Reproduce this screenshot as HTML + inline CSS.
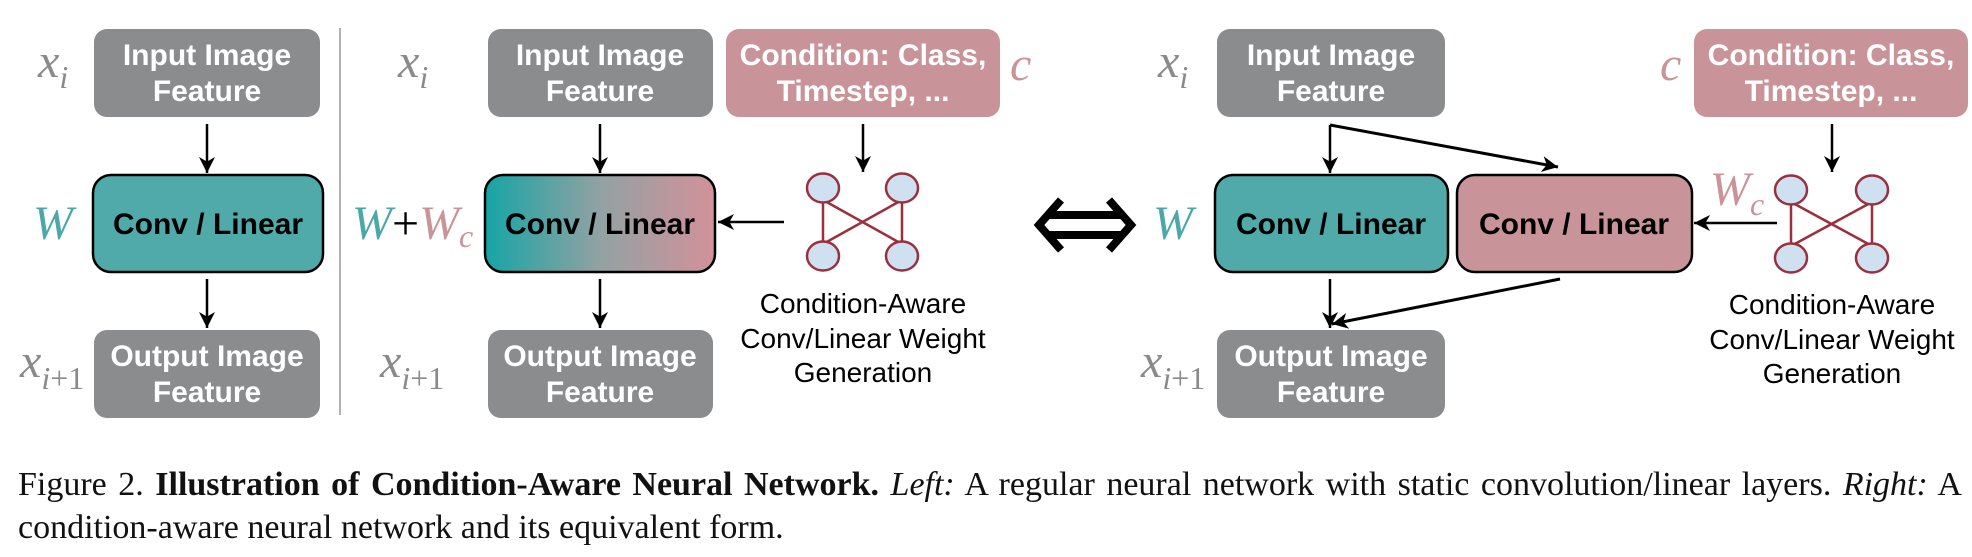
<!DOCTYPE html>
<html><head><meta charset="utf-8"><style>
html,body{margin:0;padding:0;background:#fff;width:1972px;height:557px;overflow:hidden}
svg{position:absolute;left:0;top:0}
.cap{position:absolute;left:18px;font-family:"Liberation Serif",serif;font-size:34px;color:#111;white-space:nowrap}
</style></head><body>
<svg width="1972" height="557" viewBox="0 0 1972 557" xmlns="http://www.w3.org/2000/svg">
<defs>
<marker id="ah" markerWidth="16" markerHeight="16" refX="14" refY="7" orient="auto" markerUnits="userSpaceOnUse" viewBox="0 0 14 14">
<path d="M0,0 L14,7 L0,14 L4,7 Z" fill="#000"/>
</marker>
<linearGradient id="grad" x1="0" x2="1" y1="0" y2="0">
<stop offset="0" stop-color="#16a4a4"/><stop offset="0.5" stop-color="#92a2a3"/><stop offset="1" stop-color="#d3919a"/>
</linearGradient>
</defs>
<g font-family="Liberation Sans, sans-serif" font-weight="bold" font-size="30" fill="#fff" text-anchor="middle">
<rect x="94" y="29" width="226" height="88" rx="13" fill="#8b8c8e"/>
<text x="207" y="65">Input Image</text><text x="207" y="101">Feature</text>
<rect x="94" y="330" width="226" height="88" rx="13" fill="#8b8c8e"/>
<text x="207" y="366">Output Image</text><text x="207" y="402">Feature</text>
<rect x="488" y="29" width="225" height="88" rx="13" fill="#8b8c8e"/>
<text x="600" y="65">Input Image</text><text x="600" y="101">Feature</text>
<rect x="488" y="330" width="225" height="88" rx="13" fill="#8b8c8e"/>
<text x="600" y="366">Output Image</text><text x="600" y="402">Feature</text>
<rect x="726" y="29" width="274" height="88" rx="13" fill="#c99499"/>
<text x="863" y="65">Condition: Class,</text><text x="863" y="101">Timestep, ...</text>
<rect x="1217" y="29" width="228" height="88" rx="13" fill="#8b8c8e"/>
<text x="1331" y="65">Input Image</text><text x="1331" y="101">Feature</text>
<rect x="1217" y="330" width="228" height="88" rx="13" fill="#8b8c8e"/>
<text x="1331" y="366">Output Image</text><text x="1331" y="402">Feature</text>
<rect x="1694" y="29" width="274" height="88" rx="13" fill="#c99499"/>
<text x="1831" y="65">Condition: Class,</text><text x="1831" y="101">Timestep, ...</text>
</g>
<g stroke="#000" stroke-width="2.5">
<rect x="93" y="175" width="230" height="97" rx="18" fill="#51aaaa"/>
<rect x="485" y="175" width="230" height="97" rx="18" fill="url(#grad)"/>
<rect x="1215" y="175" width="233" height="97" rx="18" fill="#51aaaa"/>
<rect x="1457" y="175" width="235" height="97" rx="18" fill="#c99499"/>
</g>
<g font-family="Liberation Sans, sans-serif" font-weight="bold" font-size="30" fill="#000" text-anchor="middle">
<text x="208" y="234">Conv / Linear</text>
<text x="600" y="234">Conv / Linear</text>
<text x="1331" y="234">Conv / Linear</text>
<text x="1574" y="234">Conv / Linear</text>
</g>
<line x1="340" y1="28" x2="340" y2="415" stroke="#999" stroke-width="1.5"/>
<g stroke="#000" stroke-width="2.5" fill="none" marker-end="url(#ah)">
<line x1="207" y1="124" x2="207" y2="173"/>
<line x1="207" y1="279" x2="207" y2="328"/>
<line x1="600" y1="124" x2="600" y2="173"/>
<line x1="600" y1="279" x2="600" y2="328"/>
<line x1="863" y1="124" x2="863" y2="172"/>
<line x1="784" y1="222" x2="718" y2="222"/>
<line x1="1330" y1="125" x2="1330" y2="173"/>
<line x1="1330" y1="279" x2="1330" y2="328"/>
<line x1="1832" y1="124" x2="1832" y2="172"/>
<line x1="1777" y1="223" x2="1694" y2="223"/>
</g>
<g stroke="#000" stroke-width="3" fill="none">
<polyline points="1330,125 1558,167" marker-end="url(#ah)"/>
<polyline points="1560,279 1332,324" marker-end="url(#ah)"/>
</g>
<g stroke="#9b2f3c" stroke-width="2.5">
<line x1="823" y1="188" x2="823" y2="256"/><line x1="902" y1="188" x2="902" y2="256"/>
<line x1="823" y1="200" x2="902" y2="244"/><line x1="902" y1="200" x2="823" y2="244"/>
<line x1="1791" y1="190" x2="1791" y2="258"/><line x1="1872" y1="190" x2="1872" y2="258"/>
<line x1="1791" y1="202" x2="1872" y2="246"/><line x1="1872" y1="202" x2="1791" y2="246"/>
</g>
<g stroke="#9b2f3c" stroke-width="2.5" fill="#cfe0f1">
<ellipse cx="823" cy="188" rx="16" ry="14.5"/><ellipse cx="902" cy="188" rx="16" ry="14.5"/>
<ellipse cx="823" cy="256" rx="16" ry="14.5"/><ellipse cx="902" cy="256" rx="16" ry="14.5"/>
<ellipse cx="1791" cy="190" rx="16" ry="14.5"/><ellipse cx="1872" cy="190" rx="16" ry="14.5"/>
<ellipse cx="1791" cy="258" rx="16" ry="14.5"/><ellipse cx="1872" cy="258" rx="16" ry="14.5"/>
</g>
<g font-family="Liberation Sans, sans-serif" font-size="28" fill="#000" text-anchor="middle">
<text x="863" y="313">Condition-Aware</text>
<text x="863" y="348">Conv/Linear Weight</text>
<text x="863" y="382">Generation</text>
<text x="1832" y="314">Condition-Aware</text>
<text x="1832" y="349">Conv/Linear Weight</text>
<text x="1832" y="383">Generation</text>
</g>
<g stroke="#000" stroke-width="8" fill="none" stroke-linejoin="miter">
<polyline points="1061,200 1039,225 1061,250"/>
<polyline points="1109,200 1131,225 1109,250"/>
<line x1="1046" y1="215" x2="1124" y2="215"/>
<line x1="1046" y1="235" x2="1124" y2="235"/>
</g>
<g font-family="Liberation Serif, serif" font-style="italic">
<text x="38" y="77" font-size="48" fill="#8a8a8a">x<tspan font-size="32" dy="11">i</tspan></text>
<text x="33" y="239" font-size="48" fill="#4aa8a8">W</text>
<text x="20" y="377" font-size="48" fill="#8a8a8a">x<tspan font-size="32" dy="12">i</tspan><tspan font-style="normal" font-size="32">+1</tspan></text>
<text x="398" y="77" font-size="48" fill="#8a8a8a">x<tspan font-size="32" dy="11">i</tspan></text>
<text x="352" y="239" font-size="48" fill="#4aa8a8">W<tspan font-style="normal" fill="#000">+</tspan><tspan fill="#c99499">W</tspan><tspan fill="#c99499" font-size="32" dy="8">c</tspan></text>
<text x="380" y="377" font-size="48" fill="#8a8a8a">x<tspan font-size="32" dy="12">i</tspan><tspan font-style="normal" font-size="32">+1</tspan></text>
<text x="1010" y="80" font-size="48" fill="#c99499">c</text>
<text x="1158" y="77" font-size="48" fill="#8a8a8a">x<tspan font-size="32" dy="11">i</tspan></text>
<text x="1153" y="239" font-size="48" fill="#4aa8a8">W</text>
<text x="1141" y="377" font-size="48" fill="#8a8a8a">x<tspan font-size="32" dy="12">i</tspan><tspan font-style="normal" font-size="32">+1</tspan></text>
<text x="1660" y="80" font-size="48" fill="#c99499">c</text>
<text x="1710" y="205" font-size="48" fill="#c99499">W<tspan font-size="32" dy="10">c</tspan></text>
</g>
</svg>
<div class="cap" style="top:466px;width:1944px;text-align:justify;text-align-last:justify">Figure 2. <b>Illustration of Condition-Aware Neural Network.</b> <i>Left:</i> A regular neural network with static convolution/linear layers. <i>Right:</i> A</div>
<div class="cap" style="top:509px">condition-aware neural network and its equivalent form.</div>
</body></html>
